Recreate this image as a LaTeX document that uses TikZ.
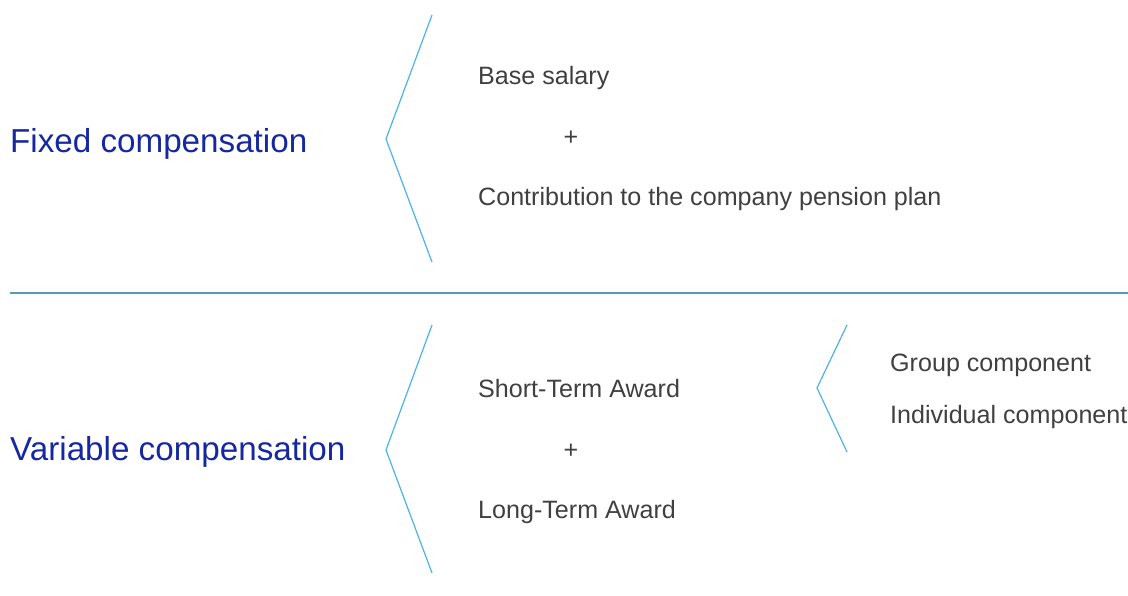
\documentclass[tikz,border=0pt]{standalone}
\usepackage{fontspec}
\setmainfont{Liberation Sans}
\usepackage{tikz}

\definecolor{titleblue}{RGB}{22,40,160}
\definecolor{textgray}{RGB}{64,64,64}
\definecolor{bracketblue}{RGB}{77,179,230}
\definecolor{ruleblue}{RGB}{91,155,176}

\begin{document}
\begin{tikzpicture}
[every node/.style={inner sep=0pt},
 title/.style={anchor=base west, text=titleblue, font=\fontsize{33.2pt}{38pt}\selectfont},
 item/.style={anchor=base west, text=textgray, font=\fontsize{25.1pt}{30pt}\selectfont},
 plus/.style={anchor=base, text=textgray, font=\fontsize{25.1pt}{30pt}\selectfont},
 brace/.style={line width=1.2pt, color=bracketblue}]
\useasboundingbox (0pt, 0pt) rectangle (1128pt, -596pt);
% fixed part
\node (fixed) [title] at (10pt, -153pt) {Fixed compensation};
\coordinate (f1) at (432pt, -15pt);
\coordinate (f2) at (386pt, -139pt);
\coordinate (f3) at (432pt, -262pt);
\draw [brace] (f1) -- (f2) -- (f3);
\node (base) [item] at (478pt, -84.5pt) {Base salary};
\node (plus1) [plus] at (571pt, -146pt) {+};
\node (pension) [item] at (478pt, -206pt) {Contribution to the company pension plan};
% separator
\coordinate (s1) at (10pt, -293pt);
\coordinate (s2) at (1128pt, -293pt);
\draw [line width=1.6pt, color=ruleblue] (s1) -- (s2);
% variable part
\node (variable) [title] at (10pt, -460.5pt) {Variable compensation};
\coordinate (v1) at (432pt, -325pt);
\coordinate (v2) at (386pt, -450pt);
\coordinate (v3) at (432pt, -573pt);
\draw [brace] (v1) -- (v2) -- (v3);
\node (short) [item] at (478pt, -397pt) {Short-Term Award};
\node (plus2) [plus] at (571pt, -458pt) {+};
\node (long) [item] at (478pt, -518pt) {Long-Term Award};
\coordinate (w1) at (847pt, -325pt);
\coordinate (w2) at (817pt, -388pt);
\coordinate (w3) at (847pt, -452pt);
\draw [brace] (w1) -- (w2) -- (w3);
\node (group) [item] at (890pt, -371.5pt) {Group component};
\node (individual) [item] at (890pt, -423pt) {Individual component};
\end{tikzpicture}
\end{document}
